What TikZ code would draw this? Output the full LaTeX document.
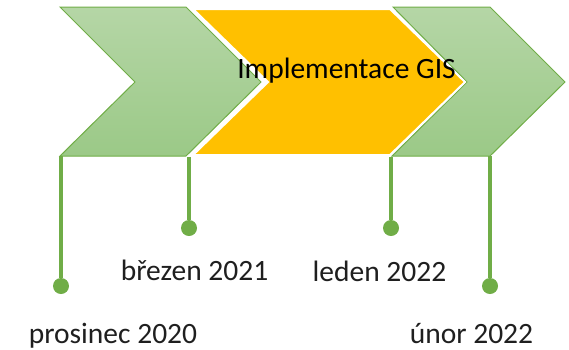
\documentclass[tikz,border=0pt]{standalone}
\usepackage{fontspec}
\setmainfont{Carlito}
\definecolor{chevgreen}{HTML}{70AD47}
\definecolor{chevtop}{HTML}{B5D6A6}
\definecolor{chevbottom}{HTML}{9BC987}
\definecolor{chevorange}{HTML}{FFC000}
\tikzset{
    stem/.style={chevgreen, line width=3.2pt},
    dot/.style={circle, fill=chevgreen, inner sep=0pt, minimum size=16pt},
    datum/.style={anchor=base, inner sep=0pt, text=black!88,
        font=\fontsize{29.5}{32}\selectfont},
    phase/.style={draw=chevgreen, line width=1pt, line join=miter,
        top color=chevtop, bottom color=chevbottom}
}
\begin{document}
\begin{tikzpicture}[x=1pt,y=-1pt]
\useasboundingbox (0,0) rectangle (569,349);
% chevrons
\path[phase] (60,7) -- (186,7) -- (261,82) -- (186,156)
    -- (60,156) -- (135,82) -- cycle;
\path[phase] (393,7) -- (490,7) -- (565,82) -- (490,156)
    -- (392,156) -- (467,82) -- cycle;
\path[fill=chevorange, draw=white, line width=2pt, line join=miter]
    (193,9) -- (390,9) -- (465,82) -- (390,155)
    -- (193,155) -- (268,82) -- cycle;
\node[anchor=base, inner sep=0pt, font=\fontsize{29.5}{32}\selectfont]
    (gis) at (346.5,78) {Implementace GIS};
% corners under the chevrons
\coordinate (c1) at (61,156);
\coordinate (c2) at (189,157);
\coordinate (c3) at (391,157);
\coordinate (c4) at (490,156);
% dots
\node[dot] (d1) at (61,286) {};
\node[dot] (d2) at (189,228) {};
\node[dot] (d3) at (391,228) {};
\node[dot] (d4) at (490,286) {};
\draw[stem] (c1) -- (d1);
\draw[stem] (c2) -- (d2);
\draw[stem] (c3) -- (d3);
\draw[stem] (c4) -- (d4);
% dates
\node[datum] (prosinec) at (113,343) {prosinec 2020};
\node[datum] (brezen) at (194.5,280) {březen 2021};
\node[datum] (leden) at (379.5,281) {leden 2022};
\node[datum] (unor) at (471.5,343) {únor 2022};
\end{tikzpicture}
\end{document}
